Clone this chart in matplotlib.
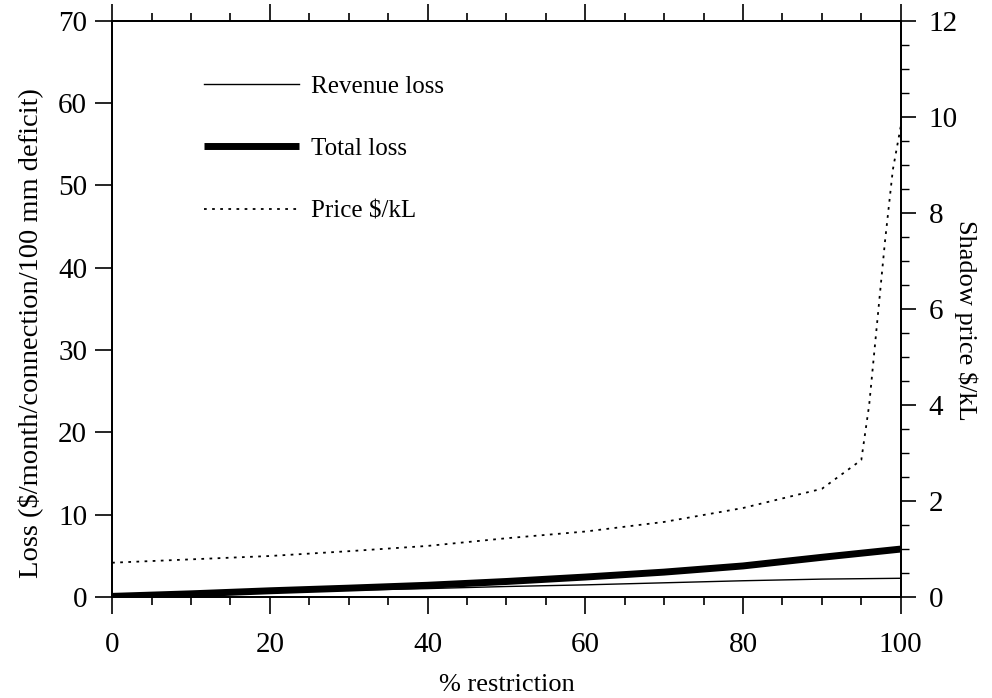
import matplotlib

matplotlib.use("Agg")
import matplotlib.pyplot as plt
from matplotlib.ticker import MultipleLocator

plt.rcParams["font.family"] = ["Liberation Serif", "DejaVu Serif"]

# % restriction
x_loss = [0, 10, 20, 30, 40, 50, 60, 70, 80, 90, 100]
revenue_loss = [0.0, 0.3, 0.55, 0.8, 1.0, 1.25, 1.45, 1.7, 1.95, 2.15, 2.25]
total_loss = [0.05, 0.36, 0.73, 1.05, 1.4, 1.86, 2.4, 3.0, 3.75, 4.8, 5.8]

x_price = [0, 10, 20, 30, 40, 50, 60, 70, 80, 90, 95, 96, 97, 98, 99, 100]
price = [0.71, 0.78, 0.85, 0.95, 1.06, 1.22, 1.36, 1.56, 1.85, 2.25, 2.85,
         4.0, 5.7, 7.4, 8.9, 9.8]

fig = plt.figure(figsize=(9.92, 6.98), dpi=100)
ax = fig.add_axes([0.113, 0.145, 0.795, 0.825])
ax2 = ax.twinx()

h1, = ax.plot(x_loss, revenue_loss, color="black", lw=1.0, label="Revenue loss")
h2, = ax.plot(x_loss, total_loss, color="black", lw=5.0, label="Total loss",
              solid_capstyle="butt")
h3, = ax2.plot(x_price, price, color="black", lw=1.3, ls=(0, (1.5, 3)),
               label="Price $/kL")

ax.set_xlim(0, 100)
ax.set_ylim(0, 70)
ax2.set_ylim(0, 12)

ax.xaxis.set_major_locator(MultipleLocator(20))
ax.xaxis.set_minor_locator(MultipleLocator(5))
ax.yaxis.set_major_locator(MultipleLocator(10))
ax2.yaxis.set_major_locator(MultipleLocator(2))
ax2.yaxis.set_minor_locator(MultipleLocator(0.5))

ax.tick_params(axis="x", which="both", direction="out", top=True,
               labelsize=21, width=1.2, pad=13)
ax.tick_params(axis="x", which="major", length=12)
ax.tick_params(axis="x", which="minor", length=6)
ax.tick_params(axis="y", which="major", direction="out", length=12,
               width=1.2, labelsize=21, pad=6)
ax2.tick_params(axis="y", which="major", direction="out", length=11,
                width=1.2, labelsize=21, pad=9)
ax2.tick_params(axis="y", which="minor", direction="out", length=6, width=1.0)

for a in (ax, ax2):
    for s in a.spines.values():
        s.set_linewidth(1.3)

ax.set_xlabel("% restriction", fontsize=19, labelpad=12)
ax.set_ylabel("Loss ($/month/connection/100 mm deficit)", fontsize=20.5)
ax.yaxis.set_label_coords(-0.087, 0.458)
ax2.set_ylabel("Shadow price $/kL", fontsize=19, rotation=-90)
ax2.yaxis.set_label_coords(1.097, 0.48)

ax.legend(handles=[h1, h2, h3], loc="upper left",
          bbox_to_anchor=(0.088, 0.945), frameon=False, fontsize=18,
          handlelength=3.8, handletextpad=0.5, labelspacing=1.6)

fig.savefig("out.png", dpi=100)
